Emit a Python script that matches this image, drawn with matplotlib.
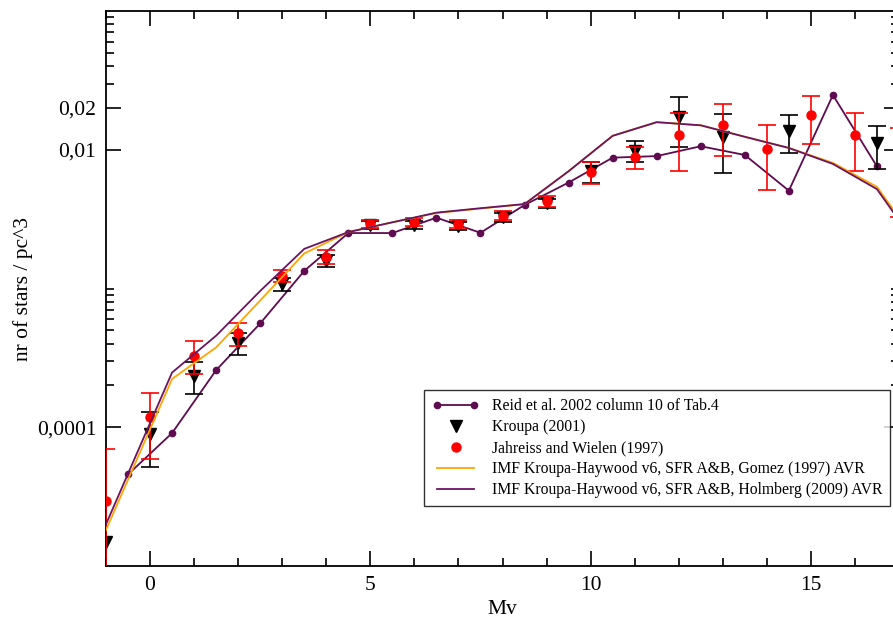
import matplotlib
matplotlib.use("Agg")
import matplotlib.pyplot as plt
from matplotlib.ticker import FixedLocator, FixedFormatter, MultipleLocator
from matplotlib.legend_handler import HandlerLine2D

plt.rcParams['font.family'] = ['Liberation Serif', 'DejaVu Serif']

# Reid et al. 2002, column 10 of Tab.4
reid_mv = [-0.5, 0.5, 1.5, 2.5, 3.5, 4.5, 5.5, 6.5, 7.5, 8.5, 9.5, 10.5,
           11.5, 12.5, 13.5, 14.5, 15.5, 16.5]
reid_n = [4.57e-5, 9.08e-5, 2.58e-4, 5.6e-4, 1.34e-3, 2.51e-3, 2.51e-3,
          3.24e-3, 2.52e-3, 4.0e-3, 5.8e-3, 8.77e-3, 9.0e-3, 1.06e-2,
          9.17e-3, 5.07e-3, 2.48e-2, 7.58e-3]

# Kroupa (2001)
kroupa_mv = [-1, 0, 1, 2, 3, 4, 5, 6, 7, 8, 9, 10, 11, 12, 13, 14.5, 16.5]
kroupa_n = [1.5e-5, 9.0e-5, 2.35e-4, 4.05e-4, 1.08e-3, 1.59e-3, 2.88e-3,
            2.88e-3, 2.82e-3, 3.26e-3, 4.11e-3, 7.0e-3, 9.87e-3, 1.71e-2,
            1.24e-2, 1.37e-2, 1.11e-2]
kroupa_err = [0, 3.8e-5, 6e-5, 7.5e-5, 1.2e-4, 1.5e-4, 2e-4, 2e-4, 2e-4,
              2.5e-4, 3e-4, 1.2e-3, 1.7e-3, 6.7e-3, 5.6e-3, 4.2e-3, 3.8e-3]

# Jahreiss and Wielen (1997)
jw_mv = [-1, 0, 1, 2, 3, 4, 5, 6, 7, 8, 9, 10, 11, 12, 13, 14, 15, 16, 17]
jw_n = [2.95e-5, 1.18e-4, 3.28e-4, 4.74e-4, 1.24e-3, 1.69e-3, 2.94e-3,
        3.0e-3, 2.94e-3, 3.35e-3, 4.25e-3, 6.9e-3, 8.9e-3, 1.27e-2,
        1.52e-2, 1.01e-2, 1.78e-2, 1.27e-2, 8.8e-3]
jw_err = [4e-5, 5.9e-5, 8.8e-5, 8.9e-5, 1.3e-4, 1.9e-4, 2e-4, 2e-4, 2e-4,
          2.5e-4, 4e-4, 1.2e-3, 1.6e-3, 5.7e-3, 6.2e-3, 5e-3, 6.8e-3,
          5.7e-3, 5.5e-3]

# Model luminosity functions
model_mv = [-1, 0.5, 1.5, 2.5, 3.5, 4.5, 5.5, 6.5, 7.5, 8.5, 9.5, 10.5,
            11.5, 12.5, 13.5, 14.5, 15.5, 16.5, 17]
gomez_n = [1.82e-5, 2.23e-4, 3.76e-4, 8.2e-4, 1.79e-3, 2.55e-3, 3.0e-3,
           3.5e-3, 3.77e-3, 4.05e-3, 7.0e-3, 1.26e-2, 1.58e-2, 1.5e-2,
           1.24e-2, 1.03e-2, 8.05e-3, 5.4e-3, 3.25e-3]
holmberg_n = [2.0e-5, 2.48e-4, 4.57e-4, 9.6e-4, 1.93e-3, 2.55e-3, 3.0e-3,
              3.52e-3, 3.79e-3, 4.06e-3, 7.0e-3, 1.26e-2, 1.58e-2, 1.5e-2,
              1.24e-2, 1.03e-2, 7.9e-3, 5.2e-3, 3.1e-3]

y_major = [1e-4, 1e-2, 2e-2]
y_major_labels = ["0,0001", "0,01", "0,02"]
y_minor = [2e-4, 3e-4, 4e-4, 5e-4, 6e-4, 7e-4, 8e-4, 9e-4, 1e-3,
           3e-2, 4e-2, 5e-2, 6e-2, 7e-2, 8e-2, 9e-2]

W, H = 893, 620
fig = plt.figure(figsize=(W / 100, H / 100), dpi=100)
ax = fig.add_axes([106 / W, 1 - 566 / H, (899 - 106) / W, (566 - 11) / H])
ax.set_yscale('log')

purple = '#5e0b4f'
model_purple = '#6b1462'

reid_line, = ax.plot(reid_mv, reid_n, color=purple, lw=1.3, marker='o',
                     ms=4.5, mfc=purple, mec=purple, zorder=3,
                     label='Reid et al. 2002 column 10 of Tab.4')

k_mv = [m for m, e in zip(kroupa_mv, kroupa_err) if e > 0]
k_n = [n for n, e in zip(kroupa_n, kroupa_err) if e > 0]
k_e = [e for e in kroupa_err if e > 0]
ax.errorbar(k_mv, k_n, yerr=k_e, fmt='none', ecolor='black', elinewidth=1.2,
            capsize=6.5, capthick=1.2, zorder=4)
kroupa_pts, = ax.plot(kroupa_mv, kroupa_n, ls='none', marker='v', ms=8,
                      color='black', zorder=5, label='Kroupa (2001)')

ax.errorbar(jw_mv, jw_n, yerr=jw_err, fmt='none', ecolor='red', elinewidth=1.2,
            capsize=6.5, capthick=1.2, zorder=6)
jw_pts, = ax.plot(jw_mv, jw_n, ls='none', marker='o', ms=6.5, color='red',
                  zorder=7, label='Jahreiss and Wielen (1997)')

ax.plot(model_mv, gomez_n, color='#ffa500', lw=1.3, zorder=8,
        label='IMF Kroupa-Haywood v6, SFR A&B, Gomez (1997) AVR')
ax.plot(model_mv, holmberg_n, color=model_purple, lw=1.3, zorder=9,
        label='IMF Kroupa-Haywood v6, SFR A&B, Holmberg (2009) AVR')

ax.set_xlim(-1, 17)
ax.set_ylim(1e-5, 0.1)

ax.xaxis.set_major_locator(MultipleLocator(5))
ax.xaxis.set_minor_locator(MultipleLocator(1))
ax.yaxis.set_major_locator(FixedLocator(y_major))
ax.yaxis.set_major_formatter(FixedFormatter(y_major_labels))
ax.yaxis.set_minor_locator(FixedLocator(y_minor))
ax.yaxis.set_minor_formatter(FixedFormatter([""] * len(y_minor)))

ax.tick_params(which='both', direction='in', top=True, right=True,
               width=1.2, color='black', labelsize=15.5)
ax.tick_params(which='major', length=11, pad=7)
ax.tick_params(which='minor', length=5.5)
for s in ax.spines.values():
    s.set_linewidth(1.3)

ax.set_xlabel('Mv', fontsize=15.5, labelpad=4)
ax.set_ylabel('nr of stars / pc^3', fontsize=15.5, labelpad=3)

leg = ax.legend(loc='lower right', bbox_to_anchor=(0.9887, 0.108),
                borderaxespad=0, fontsize=11.3, frameon=True, fancybox=False,
                edgecolor='black', handlelength=3.0, handletextpad=0.8,
                labelspacing=0.32, borderpad=0.5, numpoints=2,
                handler_map={kroupa_pts: HandlerLine2D(numpoints=1),
                             jw_pts: HandlerLine2D(numpoints=1)})
leg.get_frame().set_linewidth(1.0)
leg.set_zorder(20)

fig.savefig('out.png', dpi=100)
